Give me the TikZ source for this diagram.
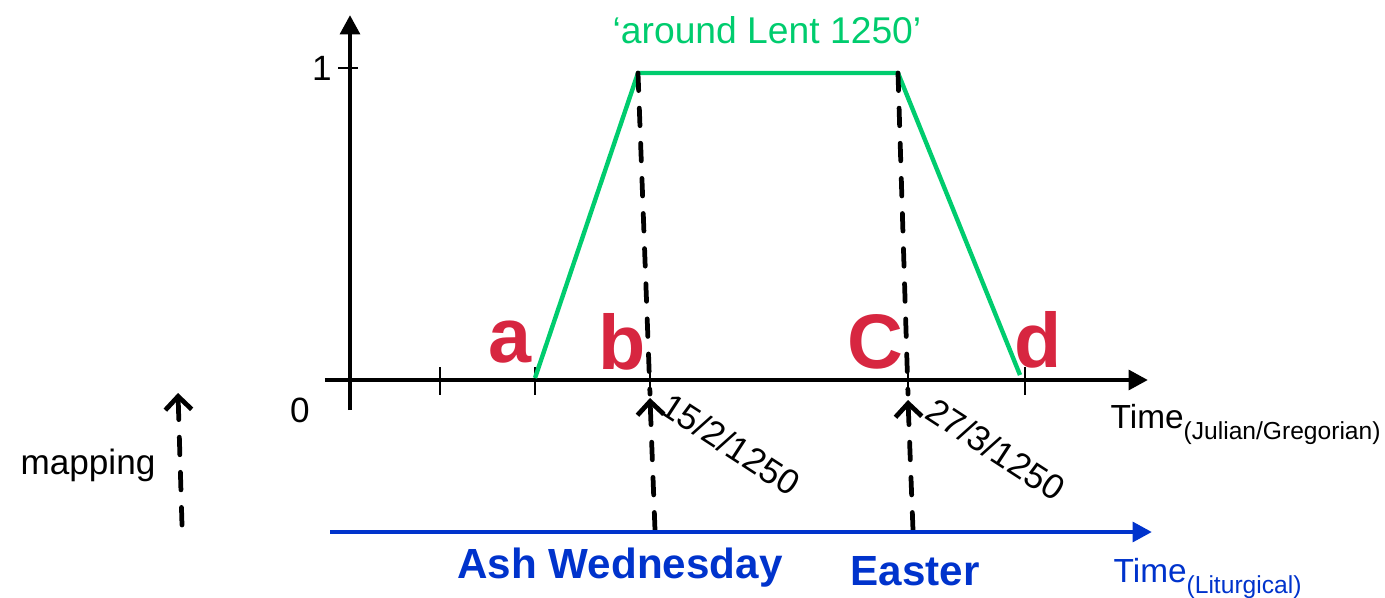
\documentclass[tikz,border=0pt]{standalone}
\usepackage{fontspec}
\setmainfont{Liberation Sans}
\usetikzlibrary{arrows.meta}
\definecolor{lentgreen}{RGB}{0,204,110}
\definecolor{letterred}{RGB}{215,38,64}
\definecolor{liturgblue}{RGB}{0,51,204}
\begin{document}
\begin{tikzpicture}[line join=round,
	axisline/.style={line width=1.35pt,-{Triangle[length=5.5pt,width=5.5pt]}},
	guide/.style={line width=1.35pt,line cap=round,dash pattern=on 5pt off 5pt},
	maparrow/.style={guide,-{Straight Barb[length=3.8pt,width=7.5pt,line width=1.35pt]}},
	letter/.style={text=letterred,font=\fontsize{22}{24}\selectfont\bfseries},
	datelabel/.style={font=\fontsize{10}{12}\selectfont,rotate=-33,anchor=north west,inner sep=0pt},
	plain/.style={font=\fontsize{10}{12}\selectfont}]
	\useasboundingbox (-3.5,-2.17) rectangle (10.35,3.80);
	\coordinate (ybot) at (0,-0.30);
	\coordinate (ytop) at (0,3.65);
	\coordinate (xleft) at (-0.25,0);
	\coordinate (xright) at (7.98,0);
	\coordinate (ya) at (1.85,0.02);
	\coordinate (yb) at (2.88,3.07);
	\coordinate (yc) at (5.48,3.07);
	\coordinate (yd) at (6.70,0.05);
	\coordinate (bx) at (3.00,-0.14);
	\coordinate (cx) at (5.58,-0.14);
	\coordinate (btip) at (3.00,-0.18);
	\coordinate (ctip) at (5.58,-0.20);
	\coordinate (bfoot) at (3.05,-1.50);
	\coordinate (cfoot) at (5.63,-1.50);
	\coordinate (mfoot) at (-1.68,-1.45);
	\coordinate (mtip) at (-1.72,-0.13);
	\coordinate (lleft) at (-0.20,-1.52);
	\coordinate (lright) at (8.02,-1.52);
	\draw[axisline] (ybot) -- (ytop);
	\draw[axisline] (xleft) -- (xright);
	\draw[line width=0.6pt] (-0.12,3.12) -- (0.08,3.12);
	\foreach \t in {0.90,1.85,3.00,5.58,6.75}
		\draw[line width=0.6pt] (\t,0.13) -- (\t,-0.15);
	\path (-0.28,3.12) node[plain] (one) {1};
	\path (-0.50,-0.30) node[plain] (zero) {0};
	\draw[lentgreen,line width=1.25pt] (ya) -- (yb) -- (yc) -- (yd);
	\path (4.17,3.50) node[text=lentgreen,font=\fontsize{10.6}{12}\selectfont] (title) {‘around Lent 1250’};
	\path (1.60,0.38) node[letter] (la) {a}
		(2.72,0.38) node[letter] (lb) {b}
		(5.25,0.38) node[letter] (lc) {C}
		(6.88,0.40) node[letter] (ld) {d};
	\draw[guide] (yb) -- (bx);
	\draw[guide] (yc) -- (cx);
	\draw[maparrow] (bfoot) -- (btip);
	\draw[maparrow] (cfoot) -- (ctip);
	\path (3.22,-0.10) node[datelabel] (bdate) {15/2/1250};
	\path (5.87,-0.15) node[datelabel] (cdate) {27/3/1250};
	\path (7.60,-0.48) node[anchor=base west,inner sep=0pt] (jtime) {\fontsize{9.5}{11}\selectfont Time\raisebox{-3.4pt}{\fontsize{7}{8}\selectfont(Julian/Gregorian)}};
	\path (-2.62,-0.85) node[plain] (map) {mapping};
	\draw[maparrow] (mfoot) -- (mtip);
	\draw[liturgblue,line width=1.35pt,-{Triangle[length=5.5pt,width=5.5pt]}] (lleft) -- (lright);
	\path (2.70,-1.88) node[text=liturgblue,font=\fontsize{12}{14}\selectfont\bfseries] (ash) {Ash Wednesday}
		(5.65,-1.91) node[text=liturgblue,font=\fontsize{12}{14}\selectfont\bfseries] (easter) {Easter};
	\path (7.63,-2.02) node[anchor=base west,inner sep=0pt,text=liturgblue] (ltime) {\fontsize{9.5}{11}\selectfont Time\raisebox{-3.4pt}{\fontsize{7}{8}\selectfont(Liturgical)}};
\end{tikzpicture}
\end{document}
